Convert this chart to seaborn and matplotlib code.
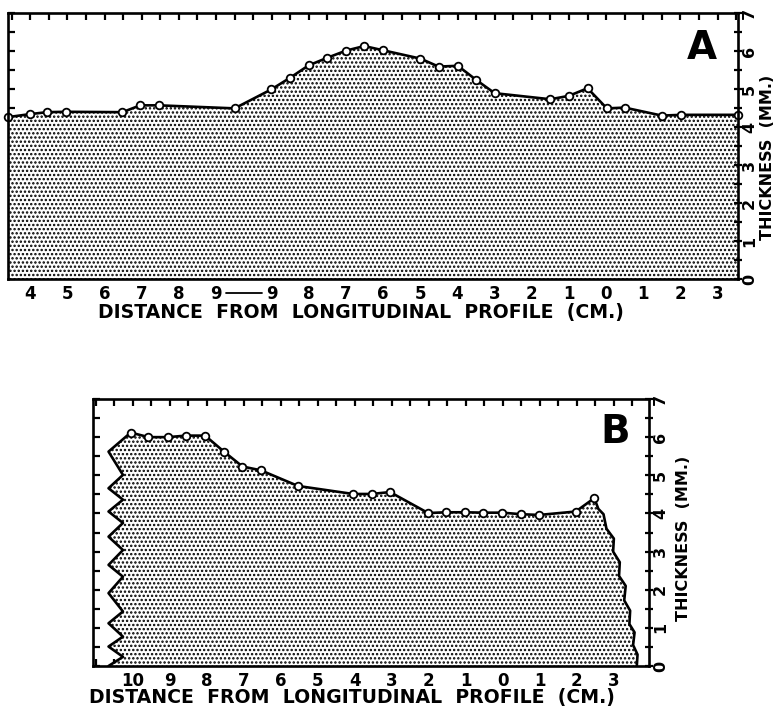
import matplotlib
matplotlib.use("Agg")
import matplotlib.pyplot as plt
import seaborn as sns
from matplotlib.ticker import FixedLocator, MultipleLocator

# ---------------- data: panel A ----------------
a_pos = [-0.6, 0.0, 0.45, 0.95, 2.48, 2.96, 3.46, 5.5, 6.49, 7.0, 7.49, 7.99, 8.5,
         8.99, 9.49, 10.5, 10.99, 11.51, 12.0, 12.5, 14.0, 14.5, 15.0, 15.52, 16.0,
         17.0, 17.52, 19.05]
a_thick = [4.26, 4.34, 4.39, 4.40, 4.39, 4.57, 4.57, 4.49, 4.99, 5.30, 5.62, 5.82,
           6.01, 6.13, 6.02, 5.80, 5.59, 5.61, 5.24, 4.89, 4.73, 4.82, 5.02, 4.49,
           4.51, 4.30, 4.32, 4.32]
a_tick_pos = [0, 1, 2, 3, 4, 5, 6.5, 7.5, 8.5, 9.5, 10.5, 11.5, 12.5, 13.5, 14.5,
              15.5, 16.5, 17.5, 18.5]
a_tick_labels = ['4', '5', '6', '7', '8', '9', '9', '8', '7', '6', '5', '4', '3',
                 '2', '1', '0', '1', '2', '3']
a_xlim = (-0.6, 19.05)

# ---------------- data: panel B ----------------
b_pos = [-0.06, 0.42, 0.95, 1.43, 1.95, 2.46, 2.96, 3.46, 4.46, 5.95, 6.45, 6.95,
         7.98, 8.46, 8.97, 9.47, 9.98, 10.49, 10.98, 11.97, 12.47]
b_thick = [6.12, 6.00, 6.00, 6.04, 6.04, 5.62, 5.23, 5.13, 4.72, 4.51, 4.51, 4.56,
           4.01, 4.03, 4.03, 4.02, 4.02, 3.98, 3.96, 4.05, 4.40]
b_tick_pos = list(range(14))
b_tick_labels = ['10', '9', '8', '7', '6', '5', '4', '3', '2', '1', '0', '1', '2', '3']
b_xlim = (-1.08, 13.95)
# torn edges of the section (top to bottom)
b_left_x = [-0.66, -0.27, -0.66, -0.27, -0.66, -0.27, -0.66, -0.27, -0.66, -0.27,
            -0.66, -0.27, -0.66, -0.27, -0.66, -0.27, -0.66]
b_left_y = [5.62, 5.01, 4.66, 4.36, 4.05, 3.75, 3.39, 3.04, 2.65, 2.34, 1.91, 1.43,
            1.12, 0.77, 0.51, 0.24, 0.0]
b_right_x = [12.58, 12.72, 12.80, 13.00, 12.98, 13.16, 13.14, 13.32, 13.28, 13.44,
             13.42, 13.56, 13.52, 13.64, 13.62]
b_right_y = [4.12, 3.98, 3.60, 3.34, 3.00, 2.72, 2.36, 2.10, 1.72, 1.45, 1.10, 0.88,
             0.55, 0.30, 0.0]

y_ticks = list(range(8))
y_label = 'THICKNESS  (MM.)'
x_label = 'DISTANCE  FROM  LONGITUDINAL  PROFILE  (CM.)'

# ---------------- style ----------------
sns.set_style('ticks')
plt.rcParams['font.family'] = ['DejaVu Sans']
plt.rcParams['font.weight'] = 'bold'
plt.rcParams['hatch.linewidth'] = 1.15
plt.rcParams['hatch.color'] = 'black'
for k in ['text.color', 'axes.labelcolor', 'xtick.color', 'ytick.color',
          'axes.edgecolor']:
    plt.rcParams[k] = 'black'

fig = plt.figure(figsize=(7.79, 7.10), dpi=100)
axA = fig.add_axes([8 / 779, 1 - 279 / 710, 730 / 779, 266 / 710])
axB = fig.add_axes([93 / 779, 1 - 666 / 710, 556 / 779, 267 / 710])

LW = 1.9
line_kw = dict(color='black', linewidth=LW, marker='o', markersize=5.5,
               markerfacecolor='white', markeredgecolor='black',
               markeredgewidth=1.3, clip_on=False, zorder=6)


def style(ax, tick_pos, tick_labels, xlim, letter, letter_xy, xlabel_x, xlabel_y,
          ylabel_x, ylabel_y):
    ax.set_xlim(*xlim)
    ax.set_ylim(0, 7)
    for s in ax.spines.values():
        s.set_visible(True)
        s.set_linewidth(1.9)
        s.set_color('black')
        s.set_zorder(8)
    ax.xaxis.set_major_locator(FixedLocator(tick_pos))
    ax.set_xticklabels(tick_labels)
    ax.xaxis.set_minor_locator(MultipleLocator(0.5))
    ax.tick_params(axis='x', which='both', direction='in', top=True, bottom=True,
                   length=5, width=1.6, labelsize=12, pad=4, colors='black')
    ax.yaxis.set_major_locator(FixedLocator(y_ticks))
    ax.yaxis.set_minor_locator(MultipleLocator(0.5))
    ax.tick_params(axis='y', which='both', direction='in', left=True, right=False,
                   labelleft=False, length=5, width=1.6)
    ax.set_xlabel(x_label, fontsize=13.6, fontweight='bold', color='black')
    ax.xaxis.set_label_coords(xlabel_x, xlabel_y)
    ax.set_ylabel('')
    ax.text(letter_xy[0], letter_xy[1], letter, transform=ax.transAxes,
            fontsize=28, fontweight='bold', ha='center', va='center', zorder=9)

    ax2 = ax.twinx()
    ax2.set_ylim(0, 7)
    for s in ax2.spines.values():
        s.set_visible(False)
    ax2.yaxis.set_major_locator(FixedLocator(y_ticks))
    ax2.yaxis.set_minor_locator(MultipleLocator(0.5))
    ax2.set_yticklabels([str(t) for t in y_ticks])
    ax2.tick_params(axis='y', which='both', direction='inout', right=True,
                    length=6, width=1.6, labelsize=11.5, labelrotation=90, pad=0,
                    colors='black')
    for t in ax2.get_yticklabels():
        t.set_fontweight('bold')
        t.set_va('center')
    ax2.set_ylabel(y_label, fontsize=11.5, fontweight='bold', rotation=90,
                   color='black')
    ax2.yaxis.set_label_coords(ylabel_x, ylabel_y)
    return ax2


# ---------------- panel A ----------------
axA.fill_between(a_pos, 0, a_thick, facecolor='white', edgecolor='black',
                 hatch='....', linewidth=0, zorder=1)
sns.lineplot(x=a_pos, y=a_thick, ax=axA, **line_kw)
style(axA, a_tick_pos, a_tick_labels, a_xlim, 'A', (0.951, 0.870),
      0.484, -0.089, 1.0305, 0.459)
# the break between the two "9" labels
axA.plot([a_tick_pos[5] + 0.27, a_tick_pos[6] - 0.27], [-0.053, -0.053],
         transform=axA.get_xaxis_transform(), color='black', linewidth=1.3,
         clip_on=False)

# ---------------- panel B ----------------
poly_x = b_left_x[::-1] + b_pos + b_right_x
poly_y = b_left_y[::-1] + b_thick + b_right_y
axB.fill(poly_x, poly_y, facecolor='white', edgecolor='black', hatch='....',
         linewidth=0, zorder=1)
axB.plot(b_left_x[::-1] + [b_pos[0]], b_left_y[::-1] + [b_thick[0]],
         color='black', linewidth=LW, zorder=5)
axB.plot([b_pos[-1]] + b_right_x, [b_thick[-1]] + b_right_y,
         color='black', linewidth=LW, zorder=5)
sns.lineplot(x=b_pos, y=b_thick, ax=axB, **line_kw)
style(axB, b_tick_pos, b_tick_labels, b_xlim, 'B', (0.939, 0.875),
      0.466, -0.083, 1.048, 0.478)

fig.savefig('out.png', dpi=100)
